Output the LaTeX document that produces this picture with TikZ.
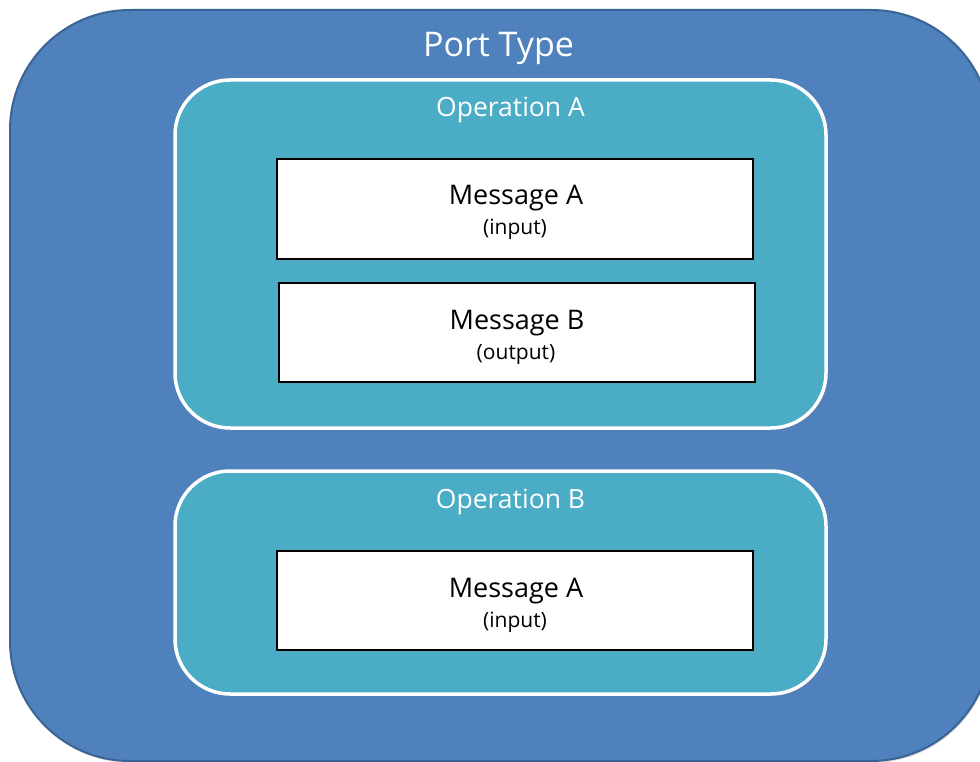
\documentclass[tikz,border=0pt]{standalone}
\usepackage{fontspec}
\setmainfont{Open Sans}
\usetikzlibrary{shadows}
\definecolor{outerfill}{HTML}{4F81BD}
\definecolor{outerline}{HTML}{3A6494}
\definecolor{opfill}{HTML}{4BACC6}
\tikzset{
  outerbox/.style={draw=outerline, line width=2pt, fill=outerfill, rounded corners=120pt,
    drop shadow={opacity=0.25, shadow xshift=1pt, shadow yshift=-2pt}},
  opbox/.style={draw=white, line width=3.5pt, fill=opfill, rounded corners=55pt,
    drop shadow={opacity=0.3, shadow xshift=2pt, shadow yshift=-2pt}},
  msgbox/.style={draw=black, line width=2.8pt, fill=white,
    drop shadow={opacity=0.2, shadow xshift=1.5pt, shadow yshift=-1.5pt}},
  bigtitle/.style={text=white, font=\fontsize{34}{40}\selectfont, anchor=base},
  optitle/.style={text=white, font=\fontsize{26.5}{31}\selectfont, anchor=base},
  msgtitle/.style={text=black, font=\fontsize{27}{32}\selectfont, anchor=base},
  msgsub/.style={text=black, font=\fontsize{21}{25}\selectfont, anchor=base},
}
\begin{document}
\begin{tikzpicture}[x=1pt, y=-1pt]
\useasboundingbox (0,0) rectangle (980,762);
\clip (0,0) rectangle (980,762);
\node[outerbox, minimum width=981pt, minimum height=751pt, inner sep=0pt] (port) at (500.5,385.5) {};
\node[bigtitle] (porttitle) at (498.5,57) {Port Type};

\node[opbox, minimum width=651pt, minimum height=348pt, inner sep=0pt] (opA) at (500.5,254) {};
\node[optitle] (opAtitle) at (510.5,117) {Operation A};

\node[msgbox, minimum width=476pt, minimum height=100pt, inner sep=0pt] (msgA) at (515,209) {};
\node[msgtitle] (msgAtitle) at (516,205) {Message A};
\node[msgsub] (msgAsub) at (515,235) {(input)};

\node[msgbox, minimum width=476pt, minimum height=99pt, inner sep=0pt] (msgB) at (517,332.5) {};
\node[msgtitle] (msgBtitle) at (517,329) {Message B};
\node[msgsub] (msgBsub) at (516,359) {(output)};

\node[opbox, minimum width=651pt, minimum height=223pt, inner sep=0pt] (opB) at (500.5,582.5) {};
\node[optitle] (opBtitle) at (510.5,508) {Operation B};

\node[msgbox, minimum width=476pt, minimum height=99pt, inner sep=0pt] (msgC) at (515,600.5) {};
\node[msgtitle] (msgCtitle) at (516,597) {Message A};
\node[msgsub] (msgCsub) at (515,627) {(input)};
\end{tikzpicture}
\end{document}
